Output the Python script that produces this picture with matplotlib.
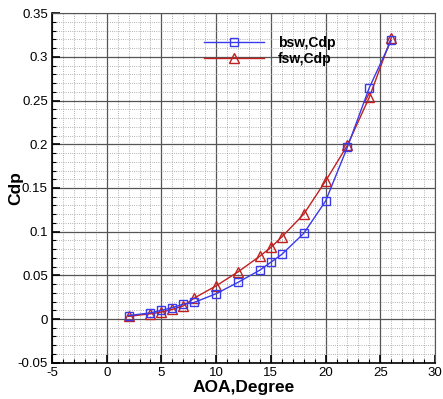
import matplotlib
matplotlib.use("Agg")
import matplotlib.pyplot as plt
from matplotlib.ticker import MultipleLocator

plt.rcParams['font.family'] = ['Liberation Sans', 'DejaVu Sans']

aoa = [2, 4, 5, 6, 7, 8, 10, 12, 14, 15, 16, 18, 20, 22, 24, 26]
bsw_cdp = [0.004, 0.007, 0.010, 0.013, 0.017, 0.019, 0.029, 0.042, 0.056, 0.065,
           0.074, 0.098, 0.135, 0.197, 0.265, 0.319]
fsw_cdp = [0.003, 0.006, 0.008, 0.011, 0.015, 0.024, 0.038, 0.054, 0.072, 0.082,
           0.094, 0.120, 0.158, 0.199, 0.254, 0.322]

fig = plt.figure(figsize=(4.43, 3.99), dpi=100)
ax = fig.add_axes([0.1174, 0.091, 0.8646, 0.8757])

ax.plot(aoa, bsw_cdp, '-s', color='#3a3aea', lw=1.0, ms=6, mfc='none', mew=1.0,
        label='bsw,Cdp', zorder=4)
ax.plot(aoa, fsw_cdp, '-^', color='#c02020', lw=1.0, ms=6.5, mfc='none', mew=1.0,
        label='fsw,Cdp', zorder=3)

ax.set_xlim(-5, 30)
ax.set_ylim(-0.05, 0.35)
ax.xaxis.set_minor_locator(MultipleLocator(1))
ax.yaxis.set_minor_locator(MultipleLocator(0.01))
ax.set_xticks([-5, 0, 5, 10, 15, 20, 25, 30])
ax.set_xticklabels(['-5', '0', '5', '10', '15', '20', '25', '30'])
ax.set_yticks([-0.05, 0, 0.05, 0.1, 0.15, 0.2, 0.25, 0.3, 0.35])
ax.set_yticklabels(['-0.05', '0', '0.05', '0.1', '0.15', '0.2', '0.25', '0.3', '0.35'])

ax.grid(which='major', color='#555555', lw=0.9, ls='-')
ax.grid(which='minor', color='#999999', lw=0.6, ls=':')
ax.set_axisbelow(True)
ax.tick_params(which='major', direction='in', length=6, width=1.2, labelsize=9.5,
               top=False, right=False, pad=3)
ax.tick_params(which='minor', direction='in', length=3, width=0.8, top=False, right=False)
for s in ax.spines.values():
    s.set_color('#555555')
ax.spines['left'].set_color('black')
ax.spines['bottom'].set_color('black')
ax.spines['left'].set_linewidth(1.2)
ax.spines['bottom'].set_linewidth(1.2)

ax.set_xlabel('AOA,Degree', fontsize=12.5, fontweight='bold', labelpad=1)
ax.set_ylabel('Cdp', fontsize=12.5, fontweight='bold', labelpad=-4)

ax.legend(loc='upper left', bbox_to_anchor=(0.365, 0.972), frameon=False,
          handlelength=4.3, handletextpad=1.0, labelspacing=0.15,
          prop={'weight': 'semibold', 'size': 10})

fig.savefig('out.png', dpi=100)
